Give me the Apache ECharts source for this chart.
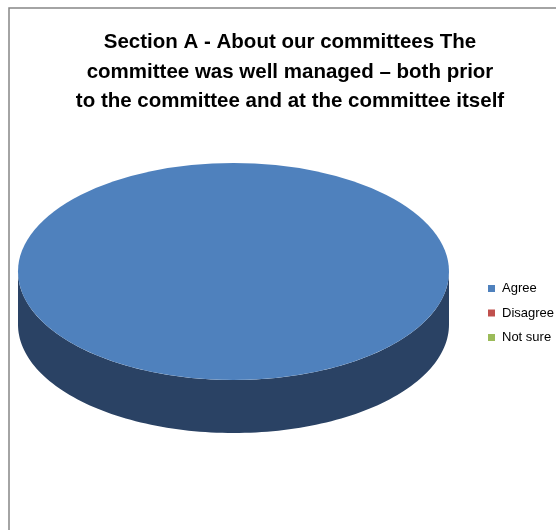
<!DOCTYPE html>
<html>
<head>
<meta charset="utf-8">
<script src="https://cdn.jsdelivr.net/npm/echarts@6/dist/echarts.min.js"></script>
<style>
html,body{margin:0;padding:0;background:#fff;}
#c{width:556px;height:530px;}
</style>
</head>
<body>
<div id="c"></div>
<script>
const titleText = 'Section A - About our committees The\ncommittee was well managed \u2013 both prior\nto the committee and at the committee itself';
const categories = ['Agree', 'Disagree', 'Not sure'];
const values = [100, 0, 0];
const topColors = ['#4f81bd', '#c0504d', '#9bbb59'];
const sideColors = ['#2a4264', '#6b2b29', '#566a30'];

const PIE = { cx: 233.5, cy: 271.5, rx: 215.5, ry: 108.5, depth: 53 };

const total = values.reduce((a, b) => a + b, 0);
const starts = [];
values.reduce((acc, v, i) => { starts[i] = acc; return acc + v; }, 0);

function arcPoints(s, e, dy, steps) {
  const pts = [];
  for (let k = 0; k <= steps; k++) {
    const t = s + (e - s) * k / steps;
    pts.push([PIE.cx + PIE.rx * Math.cos(t), PIE.cy + dy + PIE.ry * Math.sin(t)]);
  }
  return pts;
}

function makeRender(idx) {
  return function (params, api) {
    const v = api.value(0);
    if (!v || !total) return { type: 'group', children: [] };
    const a0 = -Math.PI / 2 + starts[idx] / total * Math.PI * 2;
    const a1 = a0 + v / total * Math.PI * 2;
    const children = [];
    for (let k = -1; k <= 1; k++) {
      const lo = Math.max(a0, k * 2 * Math.PI);
      const hi = Math.min(a1, k * 2 * Math.PI + Math.PI);
      if (hi > lo) {
        const topArc = arcPoints(lo, hi, 0, 120);
        const botArc = arcPoints(hi, lo, PIE.depth, 120);
        children.push({
          type: 'polygon',
          shape: { points: topArc.concat(botArc) },
          style: { fill: sideColors[idx] }
        });
      }
    }
    children.push({
      type: 'sector',
      x: PIE.cx, y: PIE.cy,
      scaleY: PIE.ry / PIE.rx,
      shape: { cx: 0, cy: 0, r: PIE.rx, r0: 0, startAngle: a0, endAngle: a1, clockwise: true },
      style: { fill: topColors[idx] }
    });
    return { type: 'group', children: children };
  };
}

const chart = echarts.init(document.getElementById('c'), null, { renderer: 'canvas' });
chart.setOption({
  animation: false,
  backgroundColor: '#ffffff',
  graphic: [{
    type: 'rect',
    shape: { x: 9, y: 8, width: 700, height: 700 },
    style: { fill: 'none', stroke: '#868686', lineWidth: 1.5 },
    silent: true
  }],
  title: {
    text: titleText,
    left: 285,
    top: 23,
    textAlign: 'center',
    textStyle: {
      fontFamily: 'Liberation Sans, Arial, sans-serif',
      fontWeight: 'bold',
      fontSize: 20.5,
      lineHeight: 29.5,
      color: '#000'
    }
  },
  legend: {
    orient: 'vertical',
    left: 488,
    top: 282,
    padding: 0,
    itemWidth: 7,
    itemHeight: 7,
    itemGap: 11.5,
    icon: 'rect',
    data: categories,
    textStyle: {
      fontFamily: 'Liberation Sans, Arial, sans-serif',
      fontSize: 13,
      color: '#000',
      padding: [0, 0, 0, 2]
    }
  },
  series: categories.map((name, i) => ({
    type: 'custom',
    name: name,
    coordinateSystem: 'none',
    silent: true,
    itemStyle: { color: topColors[i] },
    renderItem: makeRender(i),
    data: [[values[i]]]
  }))
});
</script>
</body>
</html>
